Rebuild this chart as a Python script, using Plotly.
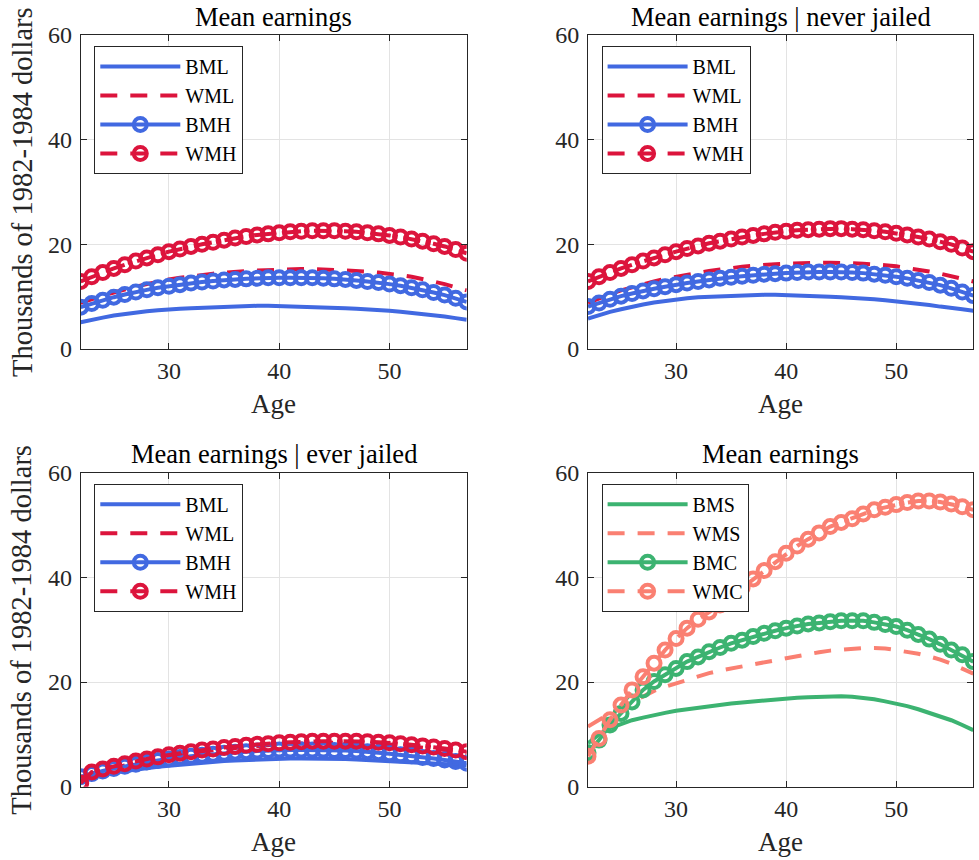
import plotly.graph_objects as go

ages = list(range(22, 58))

# Panel 1: Mean earnings (all)
p1_BML = [5.1, 5.6, 6.0, 6.4, 6.7, 7.0, 7.2, 7.4, 7.6, 7.7, 7.8, 7.9, 8.0, 8.1, 8.2, 8.2, 8.25, 8.25,
          8.2, 8.2, 8.1, 8.1, 8.0, 7.9, 7.8, 7.7, 7.6, 7.4, 7.3, 7.1, 6.9, 6.7, 6.4, 6.2, 5.9, 5.6]
p1_WML = [8.8, 9.6, 10.2, 10.8, 11.4, 11.9, 12.4, 12.9, 13.3, 13.6, 13.9, 14.2, 14.4, 14.6, 14.8, 14.9, 15.0, 15.1,
          15.2, 15.2, 15.3, 15.3, 15.2, 15.2, 15.1, 14.9, 14.8, 14.6, 14.4, 14.1, 13.8, 13.4, 12.9, 12.4, 11.8, 11.2]
p1_BMH = [8.0, 8.7, 9.3, 9.9, 10.4, 10.9, 11.3, 11.7, 12.0, 12.3, 12.6, 12.8, 13.0, 13.2, 13.3, 13.4, 13.5, 13.6,
          13.6, 13.6, 13.6, 13.6, 13.5, 13.4, 13.3, 13.1, 12.9, 12.7, 12.4, 12.1, 11.7, 11.3, 10.8, 10.3, 9.7, 9.0]
p1_WMH = [12.9, 13.8, 14.6, 15.4, 16.1, 16.8, 17.4, 18.0, 18.6, 19.1, 19.6, 20.0, 20.4, 20.8, 21.2, 21.5, 21.8, 22.0,
          22.2, 22.4, 22.5, 22.6, 22.6, 22.6, 22.5, 22.4, 22.2, 22.0, 21.7, 21.4, 21.0, 20.6, 20.1, 19.6, 19.0, 18.3]

# Panel 2: Mean earnings | never jailed
p2_BML = [5.8, 6.5, 7.1, 7.6, 8.1, 8.5, 8.9, 9.2, 9.5, 9.7, 9.9, 10.0, 10.1, 10.2, 10.3, 10.3, 10.35, 10.35,
          10.3, 10.3, 10.2, 10.1, 10.0, 9.9, 9.8, 9.6, 9.5, 9.3, 9.1, 8.9, 8.6, 8.4, 8.1, 7.9, 7.6, 7.3]
p2_WML = [8.8, 9.7, 10.5, 11.2, 11.8, 12.4, 12.9, 13.4, 13.8, 14.2, 14.6, 14.9, 15.2, 15.5, 15.7, 15.9, 16.1, 16.2,
          16.3, 16.4, 16.5, 16.5, 16.5, 16.5, 16.4, 16.3, 16.2, 16.0, 15.8, 15.5, 15.2, 14.8, 14.4, 13.9, 13.4, 12.9]
p2_BMH = [8.1, 8.8, 9.5, 10.1, 10.6, 11.1, 11.5, 11.9, 12.3, 12.6, 12.9, 13.2, 13.5, 13.7, 13.9, 14.1, 14.3, 14.4,
          14.5, 14.6, 14.7, 14.7, 14.7, 14.7, 14.6, 14.5, 14.3, 14.1, 13.8, 13.5, 13.1, 12.7, 12.2, 11.6, 10.9, 10.2]
p2_WMH = [12.9, 13.8, 14.6, 15.4, 16.1, 16.8, 17.4, 18.0, 18.6, 19.2, 19.7, 20.2, 20.6, 21.0, 21.4, 21.7, 22.0, 22.3,
          22.5, 22.7, 22.8, 22.9, 23.0, 23.0, 22.9, 22.8, 22.6, 22.4, 22.1, 21.8, 21.4, 21.0, 20.5, 20.0, 19.3, 18.6]

# Panel 3: Mean earnings | ever jailed
p3_BML = [1.4, 1.9, 2.3, 2.7, 3.0, 3.3, 3.6, 3.8, 4.0, 4.2, 4.4, 4.6, 4.7, 4.9, 5.0, 5.1, 5.2, 5.3,
          5.3, 5.4, 5.4, 5.4, 5.4, 5.3, 5.3, 5.2, 5.1, 5.0, 4.9, 4.8, 4.7, 4.6, 4.5, 4.4, 4.2, 4.1]
p3_WML = [1.2, 2.5, 3.1, 3.6, 4.1, 4.6, 5.0, 5.4, 5.8, 6.1, 6.4, 6.7, 6.9, 7.2, 7.4, 7.6, 7.8, 7.9,
          8.1, 8.2, 8.3, 8.4, 8.4, 8.4, 8.4, 8.4, 8.3, 8.2, 8.1, 7.9, 7.7, 7.5, 7.3, 7.0, 6.7, 6.4]
p3_BMH = [1.9, 2.5, 3.0, 3.5, 3.9, 4.3, 4.7, 5.0, 5.3, 5.6, 5.8, 6.0, 6.2, 6.4, 6.6, 6.7, 6.8, 6.9,
          7.0, 7.0, 7.0, 7.0, 7.0, 6.9, 6.9, 6.8, 6.7, 6.5, 6.3, 6.1, 5.9, 5.6, 5.4, 5.1, 4.8, 4.5]
p3_WMH = [0.7, 2.8, 3.4, 3.9, 4.4, 4.9, 5.3, 5.7, 6.1, 6.4, 6.7, 7.0, 7.2, 7.5, 7.7, 7.9, 8.1, 8.2,
          8.4, 8.5, 8.6, 8.7, 8.7, 8.7, 8.7, 8.7, 8.6, 8.5, 8.4, 8.2, 8.0, 7.8, 7.6, 7.3, 7.0, 6.7]

# Panel 4: Mean earnings (schooling)
p4_BMS = [8.3, 10.0, 11.2, 12.0, 12.7, 13.2, 13.7, 14.1, 14.5, 14.8, 15.1, 15.4, 15.7, 15.9, 16.1, 16.3, 16.5, 16.7,
          16.9, 17.0, 17.1, 17.2, 17.3, 17.3, 17.2, 17.0, 16.7, 16.3, 15.9, 15.4, 14.8, 14.1, 13.4, 12.7, 11.8, 10.8]
p4_WMS = [11.5, 12.8, 14.0, 15.1, 16.2, 17.3, 18.3, 19.1, 19.8, 20.5, 21.1, 21.7, 22.2, 22.6, 23.0, 23.4, 23.8, 24.2,
          24.6, 25.0, 25.4, 25.7, 26.0, 26.2, 26.4, 26.5, 26.5, 26.4, 26.1, 25.8, 25.4, 24.9, 24.3, 23.5, 22.6, 21.6]
p4_BMC = [6.5, 8.9, 11.8, 14.0, 16.2, 18.5, 20.1, 21.4, 22.6, 23.9, 24.8, 25.8, 26.6, 27.4, 28.0, 28.7, 29.3, 29.8,
          30.3, 30.7, 31.1, 31.3, 31.5, 31.7, 31.7, 31.7, 31.4, 31.0, 30.6, 29.9, 29.1, 28.2, 27.2, 26.1, 25.2, 23.9]
p4_WMC = [5.8, 9.2, 12.8, 15.6, 18.5, 21.0, 23.6, 26.1, 28.3, 30.3, 32.0, 33.4, 34.7, 36.4, 38.0, 39.7, 41.3, 43.0,
          44.6, 46.0, 47.3, 48.5, 49.7, 50.5, 51.2, 52.1, 52.9, 53.4, 53.9, 54.3, 54.6, 54.6, 54.4, 54.0, 53.5, 52.9]

titles = ["Mean earnings", "Mean earnings | never jailed",
          "Mean earnings | ever jailed", "Mean earnings"]
ylabel = "Thousands of 1982-1984 dollars"
xlabel = "Age"
xticks = [30, 40, 50]
yticks = [0, 20, 40, 60]

BLUE = "#4169E1"
RED = "#DC143C"
GREEN = "#3CB371"
SALMON = "#FA8072"

W, H = 979, 860
FONT = "Liberation Serif"
FS_TICK = 24
FS_XLAB = 27
FS_YLAB = 28.5
FS_TITLE = 26.5
FS_LEG = 20

# pixel boxes of the plot areas (left, top, right, bottom)
boxes = [(80.7, 35.0, 466.7, 349.0), (588.0, 35.0, 973.3, 349.0),
         (80.7, 472.7, 466.7, 786.7), (588.0, 472.7, 973.3, 786.7)]

panels = [
    [("BML", p1_BML, BLUE, "solid", False), ("WML", p1_WML, RED, "dash", False),
     ("BMH", p1_BMH, BLUE, "solid", True), ("WMH", p1_WMH, RED, "dash", True)],
    [("BML", p2_BML, BLUE, "solid", False), ("WML", p2_WML, RED, "dash", False),
     ("BMH", p2_BMH, BLUE, "solid", True), ("WMH", p2_WMH, RED, "dash", True)],
    [("BML", p3_BML, BLUE, "solid", False), ("WML", p3_WML, RED, "dash", False),
     ("BMH", p3_BMH, BLUE, "solid", True), ("WMH", p3_WMH, RED, "dash", True)],
    [("BMS", p4_BMS, GREEN, "solid", False), ("WMS", p4_WMS, SALMON, "dash", False),
     ("BMC", p4_BMC, GREEN, "solid", True), ("WMC", p4_WMC, SALMON, "dash", True)],
]

fig = go.Figure()
layout = dict(width=W, height=H, margin=dict(l=0, r=0, t=0, b=0, pad=0, autoexpand=False),
              paper_bgcolor="white", plot_bgcolor="white",
              font=dict(family=FONT, size=FS_TICK, color="#262626"))
annotations = []

for i, (box, series) in enumerate(zip(boxes, panels)):
    l, t, r, b = box
    k = "" if i == 0 else str(i + 1)
    xa, ya = "x" + k, "y" + k
    lg = "legend" + k
    for name, vals, col, dash, mk in series:
        tr = dict(x=ages, y=vals, name=name, xaxis=xa, yaxis=ya, legend=lg,
                  line=dict(color=col, width=4, dash="17px,13px" if dash == "dash" else "solid"))
        if mk:
            tr["mode"] = "lines+markers"
            tr["marker"] = dict(symbol="circle-open", size=13, color=col,
                                line=dict(width=4, color=col))
        else:
            tr["mode"] = "lines"
        fig.add_trace(go.Scatter(**tr))
    axcommon = dict(showline=True, linecolor="#262626", linewidth=1, mirror="ticks",
                    ticks="inside", ticklen=6, tickcolor="#262626", automargin=False,
                    showgrid=True, gridcolor="#e3e3e3", gridwidth=1, zeroline=False,
                    tickfont=dict(family=FONT, size=FS_TICK, color="#262626"))
    layout["xaxis" + k] = dict(domain=[l / W, r / W], range=[22, 57], tickvals=xticks,
                               anchor=ya, **axcommon)
    layout["yaxis" + k] = dict(domain=[1 - b / H, 1 - t / H], range=[0, 60], tickvals=yticks,
                               anchor=xa, ticklabelstandoff=3, **axcommon)
    layout[lg] = dict(x=(l + 13.6) / W, y=1 - (t + 11.0) / H, xanchor="left", yanchor="top",
                      bgcolor="white", bordercolor="#262626", borderwidth=1,
                      font=dict(family=FONT, size=FS_LEG, color="black"),
                      tracegroupgap=0, itemwidth=80)
    cx = (l + r) / 2 / W
    annotations.append(dict(text=titles[i], x=cx, y=1 - max(0.0, t - 36.0) / H,
                            xref="paper", yref="paper",
                            xanchor="center", yanchor="top", showarrow=False,
                            font=dict(family=FONT, size=FS_TITLE, color="black")))
    annotations.append(dict(text=xlabel, x=cx, y=1 - (b + 55) / H, xref="paper", yref="paper",
                            xanchor="center", yanchor="middle", showarrow=False,
                            font=dict(family=FONT, size=FS_XLAB, color="#262626")))
    if i % 2 == 0:
        annotations.append(dict(text=ylabel, x=22 / W, y=1 - ((t + b) / 2) / H, xref="paper",
                                yref="paper", xanchor="center", yanchor="middle", textangle=-90,
                                showarrow=False, font=dict(family=FONT, size=FS_YLAB, color="#262626")))

layout["annotations"] = annotations
fig.update_layout(**layout)
fig.write_html("out.html")
